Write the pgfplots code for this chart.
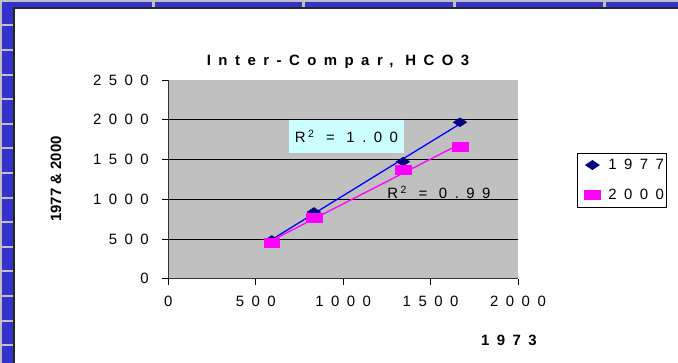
\documentclass[border=0pt]{standalone}
\usepackage{fontspec}
\usepackage{pgfplots}
\usepackage{pgfplotstable}
\pgfplotsset{compat=1.18}
\setmainfont{Liberation Sans}
\newfontfamily\spacedfont[LetterSpace=50]{Liberation Sans}
\definecolor{frameblue}{RGB}{51,51,204}
\definecolor{plotgray}{RGB}{192,192,192}
\definecolor{navyd}{RGB}{0,0,128}
\definecolor{rbox}{RGB}{204,255,255}
\definecolor{pinkm}{RGB}{255,0,255}
\definecolor{trendblue}{RGB}{0,0,255}
\newcommand\tickfont{\spacedfont\fontsize{15}{17}\selectfont}

\pgfplotstableread{
x y
591 487
833 839
1342 1472
1668 1968
}\dataA
\pgfplotstableread{
x y
591 453
833 773
1342 1368
1668 1661
}\dataB

\begin{document}
\begin{tikzpicture}
\begin{scope}[x=1bp,y=1bp]
\fill[plotgray] (0,0) rectangle (678,363);
\fill[white] (13,0) rectangle (678,356);
\fill[frameblue] (2,356) rectangle (678,361);
\fill[frameblue] (2,0) rectangle (13,361);
\foreach \sx in {152,302,453,603} {\fill[plotgray] (\sx,356) rectangle (\sx+3,361);}
\foreach \k in {0,...,13} {\fill[plotgray] (2,{363-26.5-24.6*\k}) rectangle (13,{363-24.5-24.6*\k});}
\fill[black!85] (13,0) rectangle (15,356);
\fill[black!85] (13,354) rectangle (678,356);
\end{scope}
\begin{axis}[
  at={(168.3bp,84.3bp)}, anchor=south west,
  scale only axis, width=349.7bp, height=198.7bp,
  xmin=0, xmax=2000, ymin=0, ymax=2500,
  axis lines=left,
  axis line style={-, line width=1.2bp, black!80},
  axis background/.style={fill=plotgray},
  xtick={0,500,1000,1500,2000},
  ytick={0,500,1000,1500,2000},
  extra y ticks={2500},
  extra y tick style={grid=none},
  ymajorgrids,
  grid style={black, line width=0.8bp},
  tick align=outside,
  major tick length=6bp,
  tick style={black, line width=0.8bp},
  /pgf/number format/assume math mode=true,
  /pgf/number format/1000 sep={},
  tick label style={font=\tickfont},
  yticklabel style={xshift=-10bp},
  xticklabel style={yshift=-8bp},
  title={Inter-Compar, HCO3},
  title style={at={(axis description cs:0.4853,1.1107)}, anchor=center, yshift=-10bp, font=\tickfont\bfseries},
  xlabel={1973},
  xlabel style={at={(axis description cs:0.974,-0.3085)}, anchor=center, font=\tickfont\bfseries},
  ylabel={1977 \& 2000},
  ylabel style={at={(axis description cs:-0.3211,0.5018)}, anchor=center, rotate=0, font=\fontsize{15}{17}\selectfont\bfseries},
  legend style={at={(axis description cs:1.1687,0.634)}, anchor=north west, draw=black, line width=0.8bp, font=\tickfont, inner xsep=0bp, inner ysep=4bp, row sep=14bp, cells={anchor=west}},
  legend image code/.code={\path[draw=none] (0bp,0bp) -- (29bp,0bp); \draw[#1] plot coordinates {(15bp,0bp)};},
  legend cell align=left,
]
\addplot[only marks, mark=diamond*, mark size=4.5bp, mark options={xscale=2, fill=navyd, draw=navyd}] table[x=x,y=y]{\dataA};
\addlegendentry{1977}
\addplot[only marks, mark=square*, mark size=4.5bp, mark options={xscale=1.75, fill=pinkm, draw=pinkm}] table[x=x,y=y]{\dataB};
\addlegendentry{2000}
\addplot[trendblue, line width=1.3bp, forget plot] table[x=x, y={create col/linear regression={y=y}}]{\dataA};
\addplot[pinkm, line width=1.3bp, forget plot] table[x=x, y={create col/linear regression={y=y}}]{\dataB};
\node[fill=rbox, minimum width=115bp, minimum height=33bp, inner sep=0pt, font=\tickfont] at (axis cs:1019,1789) {R\,\textsuperscript{2} = 1.00};
\node[inner sep=0pt, font=\tickfont] at (axis cs:1548,1082) {R\,\textsuperscript{2} = 0.99};
\end{axis}
\pgfresetboundingbox
\path (0,0) rectangle (678bp,363bp);
\end{tikzpicture}
\end{document}
